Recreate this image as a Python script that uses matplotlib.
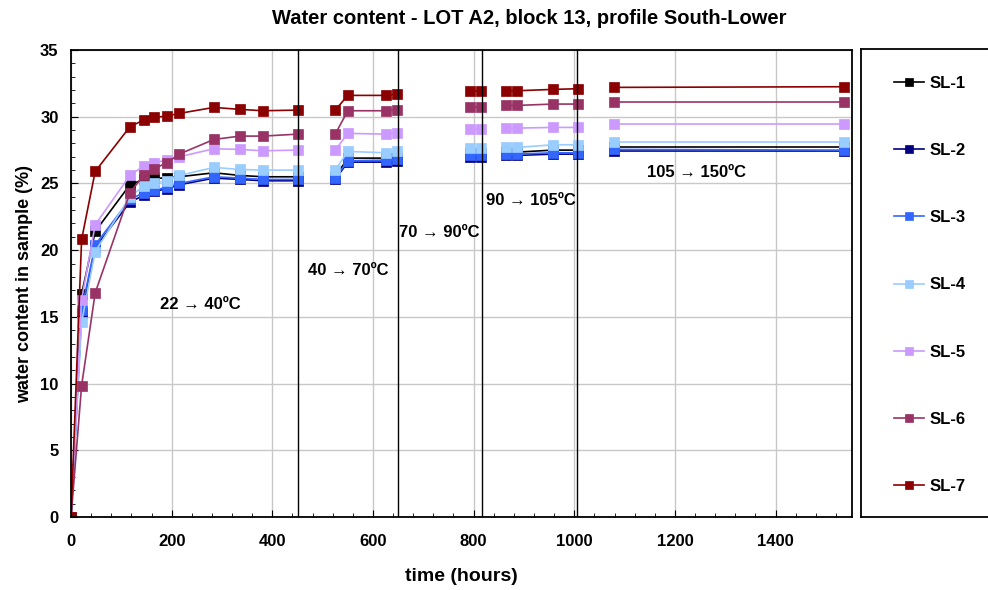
import numpy as np
import matplotlib
matplotlib.use('Agg')
import matplotlib.pyplot as plt
from matplotlib.ticker import MultipleLocator

plt.rcParams['font.family'] = ['Liberation Sans', 'DejaVu Sans']
plt.rcParams['font.weight'] = 'bold'

# elapsed time (hours)
hours = [0, 21, 48, 117, 144, 165, 190, 215, 284, 336, 382, 452,
         525, 550, 626, 647,
         793, 815,
         864, 887, 958, 1007,
         1079, 1536]
# heating stage each reading belongs to (lines are broken between stages)
stage = [1] * 12 + [2] * 4 + [3] * 2 + [4] * 4 + [5] * 2

sl1 = [0, 16.7, 21.4, 24.9, 25.3, 25.4, 25.4, 25.5, 25.8, 25.6, 25.5, 25.5,
       25.5, 26.9, 26.9, 26.9, 27.3, 27.3, 27.35, 27.35, 27.5, 27.5, 27.75, 27.75]
sl2 = [0, 15.3, 20.2, 23.6, 24.1, 24.4, 24.6, 24.9, 25.4, 25.3, 25.2, 25.2,
       25.3, 26.6, 26.6, 26.7, 27.0, 27.0, 27.1, 27.1, 27.2, 27.2, 27.45, 27.45]
sl3 = [0, 15.5, 20.4, 23.8, 24.3, 24.5, 24.7, 25.0, 25.5, 25.4, 25.3, 25.3,
       25.4, 26.7, 26.75, 26.8, 27.1, 27.1, 27.2, 27.2, 27.3, 27.3, 27.55, 27.5]
sl4 = [0, 14.6, 19.9, 24.0, 24.8, 25.05, 25.2, 25.6, 26.2, 26.05, 26.0, 26.0,
       26.0, 27.4, 27.3, 27.45, 27.65, 27.65, 27.7, 27.7, 27.9, 27.9, 28.1, 28.1]
sl5 = [0, 16.3, 21.9, 25.6, 26.3, 26.55, 26.75, 27.0, 27.6, 27.55, 27.45, 27.5,
       27.5, 28.75, 28.7, 28.8, 29.05, 29.05, 29.15, 29.15, 29.2, 29.2, 29.45, 29.45]
sl6 = [0, 9.85, 16.8, 24.3, 25.6, 26.1, 26.55, 27.2, 28.3, 28.55, 28.55, 28.7,
       28.7, 30.45, 30.45, 30.5, 30.75, 30.75, 30.85, 30.85, 30.95, 30.95, 31.1, 31.1]
sl7 = [0, 20.8, 25.9, 29.25, 29.75, 29.95, 30.05, 30.25, 30.7, 30.55, 30.45, 30.5,
       30.5, 31.6, 31.6, 31.7, 31.9, 31.9, 31.95, 31.95, 32.05, 32.1, 32.2, 32.25]

series = [sl1, sl2, sl3, sl4, sl5, sl6, sl7]
labels = ['SL-1', 'SL-2', 'SL-3', 'SL-4', 'SL-5', 'SL-6', 'SL-7']
colors = ['#000000', '#000080', '#3366FF', '#99CCFF', '#CC99FF', '#993366', '#8B0000']

# temperature changes (hours) and stage labels
changes = [451, 650, 817, 1005]
stage_text = ['22 → 40ºC', '40 → 70ºC', '70 → 90ºC', '90 → 105ºC', '105 → 150ºC']
text_x = [256, 550, 731, 914, 1242]
text_y = [15.9, 18.5, 21.3, 23.7, 25.8]

fig = plt.figure(figsize=(9.88, 5.9), dpi=100)
ax = fig.add_axes([0.0719, 0.1237, 0.7905, 0.7915])

t = np.array(hours)
st = np.array(stage)
handles = []
for vals, lab, col in zip(series, labels, colors):
    v = np.array(vals)
    for k, s in enumerate(sorted(set(stage))):
        m = st == s
        h, = ax.plot(t[m], v[m], color=col, lw=1.2, marker='s', ms=7.5,
                     mec=col, mew=0.5)
        if k == 0:
            handles.append(h)

for c in changes:
    ax.axvline(c, color='black', lw=1.0)

for txt, x, y in zip(stage_text, text_x, text_y):
    ax.text(x, y, txt, ha='center', va='center', fontsize=12, fontweight='bold')

ax.set_xlim(0, 1552)
ax.set_ylim(0, 35)
ax.xaxis.set_major_locator(MultipleLocator(200))
ax.xaxis.set_minor_locator(MultipleLocator(40))
ax.yaxis.set_major_locator(MultipleLocator(5))
ax.yaxis.set_minor_locator(MultipleLocator(1))
ax.tick_params(which='both', direction='in', labelsize=12)
ax.tick_params(which='major', length=5)
ax.tick_params(which='minor', length=3)
ax.tick_params(axis='x', which='major', pad=12)
ax.tick_params(axis='y', which='major', pad=9)
ax.grid(True, which='major', color='#c8c8c8', lw=1.0)
ax.set_axisbelow(True)
for sp in ax.spines.values():
    sp.set_linewidth(1.3)

ax.set_xlabel('time (hours)', fontsize=14, fontweight='bold', labelpad=14)
ax.set_ylabel('water content in sample (%)', fontsize=13, fontweight='bold', labelpad=5)
fig.text(0.536, 0.968, 'Water content - LOT A2, block 13, profile South-Lower',
         ha='center', va='center', fontsize=14.5, fontweight='bold')

# legend in its own framed box on the right
lax = fig.add_axes([861 / 988, 73 / 590, 160 / 988, 468 / 590])
lax.set_xticks([])
lax.set_yticks([])
for sp in lax.spines.values():
    sp.set_linewidth(1.3)
lax.legend(handles, labels, loc='center left', bbox_to_anchor=(0.11, 0.496),
           frameon=False, fontsize=12, labelspacing=3.13, handlelength=1.8,
           handletextpad=0.35, markerscale=0.8)

fig.savefig('out.png', dpi=100)
